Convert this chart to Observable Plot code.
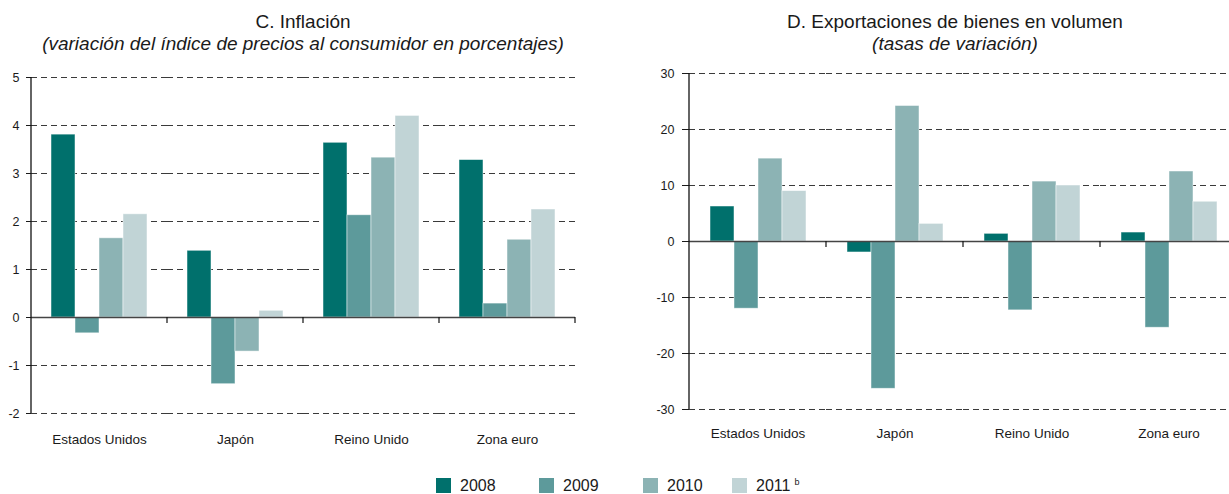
<!DOCTYPE html>
<html>
<head>
<meta charset="utf-8">
<script src="https://cdn.jsdelivr.net/npm/d3@7"></script>
<script src="https://cdn.jsdelivr.net/npm/@observablehq/plot@0.6"></script>
<style>
  html, body { margin: 0; padding: 0; background: #fff; }
  body { position: relative; width: 1229px; height: 494px; overflow: hidden;
         font-family: "Liberation Sans", Arial, sans-serif; color: #1a1a1a; }
  .chart { position: absolute; top: 0; }
  .chart svg { max-width: none !important; }
  .title { position: absolute; text-align: center; font-size: 19px; line-height: 21.5px; }
  .title .sub { font-style: italic; }
  .legend { position: absolute; top: 478px; left: 436px; display: flex; font-size: 16px; }
  .legend .item { display: inline-flex; align-items: center; height: 15px; line-height: 15px; }
  .legend .sw { width: 15px; height: 15px; margin-right: 9px; }
  .legend sup { font-size: 9px; margin-left: 4px; position: relative; top: -3px; }
</style>
</head>
<body>
<div id="left" class="chart" style="left:0px;width:600px"></div>
<div id="right" class="chart" style="left:620px;width:630px"></div>
<div class="title" style="left:3px;width:600px;top:11px">
  <div>C. Inflación</div>
  <div class="sub">(variación del índice de precios al consumidor en porcentajes)</div>
</div>
<div class="title" style="left:755px;width:400px;top:11px">
  <div>D. Exportaciones de bienes en volumen</div>
  <div class="sub">(tasas de variación)</div>
</div>
<div class="legend" id="legend"></div>
<script>
// ---- data ----
const categories = ["Estados Unidos", "Japón", "Reino Unido", "Zona euro"];
const years = ["2008", "2009", "2010", "2011"];
const yearLabels = ["2008", "2009", "2010", "2011"];
const yearNotes = ["", "", "", "b"];

const inflation2008 = [3.81, 1.39, 3.64, 3.28];
const inflation2009 = [-0.33, -1.39, 2.13, 0.29];
const inflation2010 = [1.65, -0.71, 3.33, 1.62];
const inflation2011 = [2.15, 0.14, 4.20, 2.25];

const exports2008 = [6.25, -1.96, 1.37, 1.6];
const exports2009 = [-12.0, -26.3, -12.3, -15.4];
const exports2010 = [14.8, 24.2, 10.7, 12.5];
const exports2011 = [9.0, 3.15, 10.0, 7.1];

const inflationTicks = [-2, -1, 0, 1, 2, 3, 4, 5];
const exportsTicks = [-30, -20, -10, 0, 10, 20, 30];

// ---- styles ----
const colors = ["#00706c", "#5d9a9b", "#8cb3b4", "#c1d4d6"];
const legendWidths = [103, 104, 89, 80];

function makeChart(series, ticks, opts) {
  const data = categories.flatMap((c, i) =>
    years.map((yr, j) => ({category: c, year: yr, value: series[j][i]})));
  const plotH = 336;
  const svg = Plot.plot({
    width: opts.width,
    height: opts.marginTop + plotH + 40,
    marginTop: opts.marginTop,
    marginBottom: 40,
    marginLeft: opts.marginLeft,
    marginRight: opts.marginRight,
    style: {background: "none", fontFamily: "'Liberation Sans', Arial, sans-serif", color: "#1a1a1a", overflow: "visible", maxWidth: "none"},
    fx: {domain: categories, padding: 0, label: null},
    x: {domain: years, paddingInner: 0, paddingOuter: 0.78, axis: null},
    y: {domain: [ticks[0], ticks[ticks.length - 1]], axis: null},
    color: {domain: years, range: colors},
    marks: [
      Plot.ruleY(ticks.filter(t => t !== 0), {stroke: "#3a3a3a", strokeWidth: 1, strokeDasharray: "6,4"}),
      Plot.barY(data, {fx: "category", x: "year", y: "value", fill: "year",
                       stroke: "white", strokeOpacity: 0.6, strokeWidth: 0.8}),
      Plot.ruleY([0], {stroke: "#444", strokeWidth: 1.6}),
      Plot.axisY({ticks, tickSize: opts.tickSize, tickPadding: opts.tickPadding, fontSize: 12.5, label: null, tickFormat: d => String(d)}),
      Plot.axisFx({anchor: "bottom", tickSize: 0, tickPadding: opts.fxPadding, fontSize: 13.5, label: null})
    ]
  });
  // axis line and category boundary ticks, derived from the plot's own scales
  const fx = svg.scale("fx");
  const y = svg.scale("y");
  const y0 = y.apply(0);
  const yr = y.range;
  const g = d3.select(svg).append("g").attr("stroke", "#111");
  const xl = fx.apply(categories[0]);
  g.append("line").attr("x1", xl).attr("x2", xl)
    .attr("y1", Math.min(...yr)).attr("y2", Math.max(...yr)).attr("stroke-width", 1.3);
  categories.forEach(c => {
    const xb = fx.apply(c) + fx.bandwidth;
    g.append("line").attr("x1", xb).attr("x2", xb)
      .attr("y1", y0).attr("y2", y0 + 6).attr("stroke-width", 1.2);
  });
  return svg;
}

document.getElementById("left").append(
  makeChart([inflation2008, inflation2009, inflation2010, inflation2011], inflationTicks,
    {width: 600, marginTop: 77, marginLeft: 31, marginRight: 25, tickSize: 5, tickPadding: 7, fxPadding: 21}));

document.getElementById("right").append(
  makeChart([exports2008, exports2009, exports2010, exports2011], exportsTicks,
    {width: 630, marginTop: 73, marginLeft: 67, marginRight: 12, tickSize: 7, tickPadding: 8, fxPadding: 19}));

// ---- legend ----
const legend = document.getElementById("legend");
years.forEach((yr, i) => {
  const item = document.createElement("div");
  item.className = "item";
  item.style.width = legendWidths[i] + "px";
  const sw = document.createElement("span");
  sw.className = "sw";
  sw.style.background = colors[i];
  item.append(sw);
  const t = document.createElement("span");
  t.textContent = yearLabels[i];
  item.append(t);
  if (yearNotes[i]) {
    const s = document.createElement("sup");
    s.textContent = yearNotes[i];
    item.append(s);
  }
  legend.append(item);
});
</script>
</body>
</html>
